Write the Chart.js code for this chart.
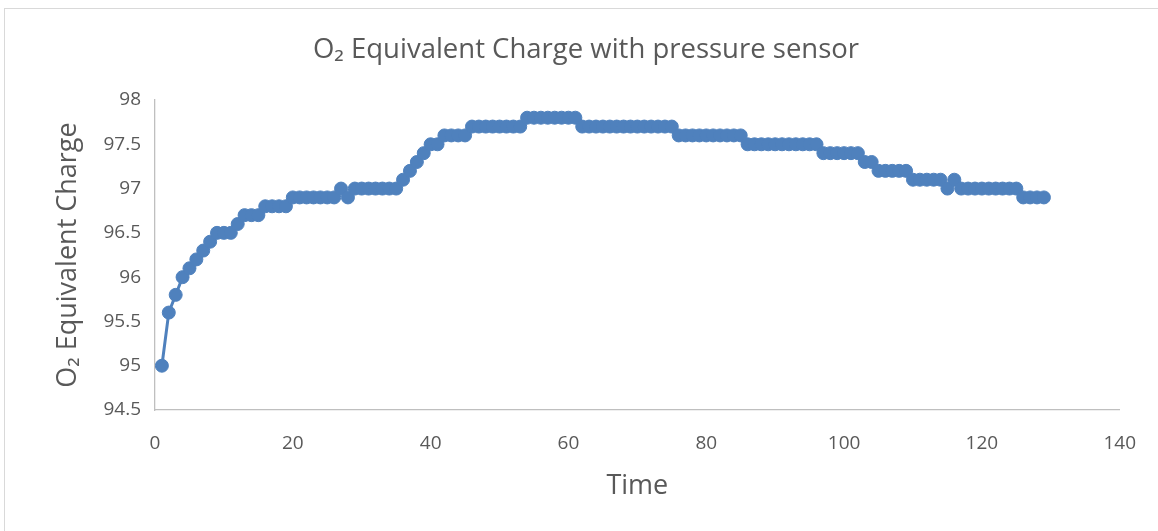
<!DOCTYPE html>
<html>
<head>
<meta charset="utf-8">
<script src="https://cdn.jsdelivr.net/npm/chart.js@4/dist/chart.umd.min.js"></script>
<style>
  html, body { margin: 0; padding: 0; background: #ffffff; }
  #wrap { position: relative; width: 1158px; height: 531px; overflow: hidden; }
  #frame { position: absolute; left: 4px; top: 8px; width: 1170px; height: 540px; border: 1px solid #d9d9d9; box-sizing: border-box; }
  #c { position: absolute; left: 0; top: 0; }
</style>
</head>
<body>
<div id="wrap">
  <div id="frame"></div>
  <canvas id="c" width="1158" height="531"></canvas>
</div>
<script>
const chartTitle = "O₂ Equivalent Charge with pressure sensor";
const xAxisTitle = "Time";
const yAxisTitle = "O₂ Equivalent Charge";

const times = [
  1,2,3,4,5,6,7,8,9,10,
  11,12,13,14,15,16,17,18,19,20,
  21,22,23,24,25,26,27,28,29,30,
  31,32,33,34,35,36,37,38,39,40,
  41,42,43,44,45,46,47,48,49,50,
  51,52,53,54,55,56,57,58,59,60,
  61,62,63,64,65,66,67,68,69,70,
  71,72,73,74,75,76,77,78,79,80,
  81,82,83,84,85,86,87,88,89,90,
  91,92,93,94,95,96,97,98,99,100,
  101,102,103,104,105,106,107,108,109,110,
  111,112,113,114,115,116,117,118,119,120,
  121,122,123,124,125,126,127,128,129
];

const charge = [
  95.0,95.6,95.8,96.0,96.1,96.2,96.3,96.4,96.5,96.5,
  96.5,96.6,96.7,96.7,96.7,96.8,96.8,96.8,96.8,96.9,
  96.9,96.9,96.9,96.9,96.9,96.9,97.0,96.9,97.0,97.0,
  97.0,97.0,97.0,97.0,97.0,97.1,97.2,97.3,97.4,97.5,
  97.5,97.6,97.6,97.6,97.6,97.7,97.7,97.7,97.7,97.7,
  97.7,97.7,97.7,97.8,97.8,97.8,97.8,97.8,97.8,97.8,
  97.8,97.7,97.7,97.7,97.7,97.7,97.7,97.7,97.7,97.7,
  97.7,97.7,97.7,97.7,97.7,97.6,97.6,97.6,97.6,97.6,
  97.6,97.6,97.6,97.6,97.6,97.5,97.5,97.5,97.5,97.5,
  97.5,97.5,97.5,97.5,97.5,97.5,97.4,97.4,97.4,97.4,
  97.4,97.4,97.3,97.3,97.2,97.2,97.2,97.2,97.2,97.1,
  97.1,97.1,97.1,97.1,97.0,97.1,97.0,97.0,97.0,97.0,
  97.0,97.0,97.0,97.0,97.0,96.9,96.9,96.9,96.9
];

const xTicks = { min: 0, max: 140, step: 20 };
const yTicks = { min: 94.5, max: 98, step: 0.5 };

const points = times.map((t, i) => ({ x: t, y: charge[i] }));

const textColor = '#595959';
const axisColor = '#bfbfbf';
const seriesColor = '#4f81bd';
const fontFamily = '"Open Sans", "Noto Sans", "DejaVu Sans", sans-serif';

new Chart(document.getElementById('c'), {
  type: 'line',
  data: {
    datasets: [{
      label: yAxisTitle,
      data: points,
      borderColor: seriesColor,
      backgroundColor: seriesColor,
      borderWidth: 3,
      pointRadius: 6.5,
      pointBorderWidth: 1,
      pointBorderColor: seriesColor,
      pointBackgroundColor: seriesColor,
      tension: 0,
      fill: false
    }]
  },
  options: {
    responsive: false,
    animation: false,
    events: [],
    layout: { padding: { left: 51, right: 37, top: 0, bottom: 0 } },
    plugins: {
      legend: { display: false },
      tooltip: { enabled: false },
      title: {
        display: true,
        text: chartTitle,
        color: textColor,
        font: { family: fontFamily, size: 27.5, weight: 'normal', lineHeight: 1.2 },
        padding: { top: 34, bottom: 33 }
      }
    },
    scales: {
      x: {
        type: 'linear',
        min: xTicks.min,
        max: xTicks.max,
        afterFit: (s) => { s.height = 121; },
        grid: { display: true, drawOnChartArea: false, drawTicks: false },
        border: { display: true, color: axisColor, width: 1.3 },
        ticks: {
          stepSize: xTicks.step,
          color: textColor,
          padding: 22,
          maxRotation: 0,
          font: { family: fontFamily, size: 19 }
        },
        title: {
          display: true,
          text: xAxisTitle,
          color: textColor,
          font: { family: fontFamily, size: 27, lineHeight: 1.2 },
          padding: { top: 0, bottom: 28 }
        }
      },
      y: {
        type: 'linear',
        min: yTicks.min,
        max: yTicks.max,
        afterFit: (s) => { s.width = 104; },
        grid: { display: true, drawOnChartArea: false, drawTicks: false },
        border: { display: true, color: axisColor, width: 1.3 },
        ticks: {
          stepSize: yTicks.step,
          color: textColor,
          padding: 14,
          font: { family: fontFamily, size: 19 },
          callback: (v) => String(Math.round(v * 10) / 10)
        },
        title: {
          display: true,
          text: yAxisTitle,
          color: textColor,
          font: { family: fontFamily, size: 27, lineHeight: 1.2 },
          padding: { top: 1, bottom: 0 }
        }
      }
    }
  }
});
</script>
</body>
</html>
